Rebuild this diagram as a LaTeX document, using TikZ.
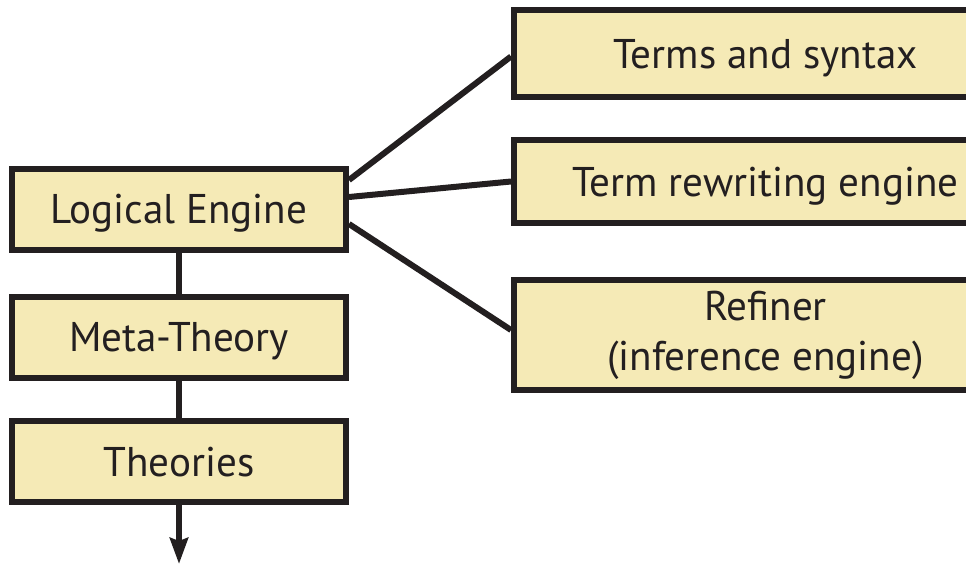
\documentclass[tikz,border=0pt]{standalone}
\usepackage{fontspec}
\setmainfont{PT Sans}[FakeStretch=0.99]
\usetikzlibrary{arrows.meta,backgrounds}
\definecolor{boxfill}{HTML}{F5EAB6}
\definecolor{ink}{HTML}{231F20}
\tikzset{
  box/.style={draw=ink, fill=boxfill, line width=6pt, inner sep=0pt,
    font=\fontsize{41.5}{50}\selectfont, text=ink, align=center},
  oneline/.style={text height=29pt, text depth=0pt},
  leftbox/.style={box, oneline, minimum width=334pt, minimum height=81pt},
  rightbox/.style={box, minimum width=503pt},
  link/.style={draw=ink, line width=6pt},
}
\begin{document}
\begin{tikzpicture}[x=1pt,y=-1pt]
  \clip (0,0) rectangle (966,565);

  % left column
  \node[leftbox] (le) at (179,209) {Logical Engine};
  \node[leftbox] (mt) at (179,337) {Meta-Theory};
  \node[leftbox] (th) at (179,461.5) {Theories};

  % right column, running past the right edge
  \node[rightbox, oneline, minimum height=87pt] (ts) at (765.5,53.5) {Terms and syntax};
  \node[rightbox, oneline, minimum height=83pt] (tr) at (765.5,181.5) {Term rewriting engine};
  \node[rightbox, minimum height=110pt] (rf) at (765.5,335) {Refiner\\(inference engine)};

  \coordinate (out) at (179,564);

  \begin{scope}[on background layer]
    \fill[white] (0,0) rectangle (966,565);
    \draw[link] ([yshift=29pt]le.east) -- ([yshift=-3pt]ts.west);
    \draw[link] ([yshift=12pt]le.east) -- (tr.west);
    \draw[link] ([yshift=-15pt]le.east) -- ([yshift=5pt]rf.west);
    \draw[link] (le.south) -- (mt.north);
    \draw[link] (mt.south) -- (th.north);
  \end{scope}
  \draw[link, -{Stealth[width=18pt,length=26pt,inset=3pt]}] (th.south) -- (out);
\end{tikzpicture}
\end{document}
